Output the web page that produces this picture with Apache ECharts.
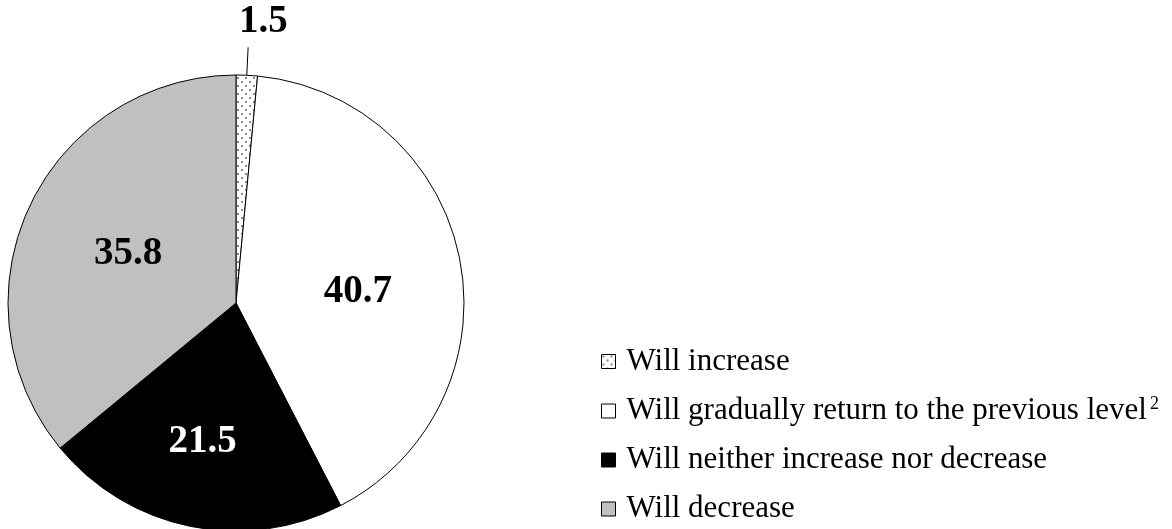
<!DOCTYPE html>
<html>
<head>
<meta charset="utf-8">
<script src="https://cdn.jsdelivr.net/npm/echarts@6/dist/echarts.min.js"></script>
<style>
html,body{margin:0;padding:0;background:#fff;}
#chart{width:1172px;height:529px;}
</style>
</head>
<body>
<div id="chart"></div>
<script>
var categories = [
  'Will increase',
  'Will gradually return to the previous level',
  'Will neither increase nor decrease',
  'Will decrease'
];
var values = [1.5, 40.7, 21.5, 35.8];

function dotPattern() {
  var c = document.createElement('canvas');
  c.width = 8; c.height = 8;
  var g = c.getContext('2d');
  g.fillStyle = '#ffffff';
  g.fillRect(0, 0, 8, 8);
  g.fillStyle = '#8a8a8a';
  g.fillRect(1, 1, 2, 2);
  g.fillRect(5, 5, 2, 2);
  return c;
}

var fills = [
  { image: dotPattern(), repeat: 'repeat' },
  '#ffffff',
  '#000000',
  '#c0c0c0'
];
var labelColors = ['#000000', '#000000', '#ffffff', '#000000'];
var labelOffsets = [[-14, -25], [7, 11], [-10, 24], [-2, 1]];

var font = '"Liberation Serif", "Times New Roman", serif';

var data = categories.map(function (name, i) {
  var item = {
    name: name,
    value: values[i],
    itemStyle: { color: fills[i] },
    label: {
      color: labelColors[i],
      offset: labelOffsets[i]
    }
  };
  if (i === 0) {
    item.label.position = 'outside';
    item.labelLine = { show: true, length: 28, length2: 0, lineStyle: { color: '#000', width: 1 } };
  }
  return item;
});

var chart = echarts.init(document.getElementById('chart'), null, { renderer: 'canvas' });
chart.setOption({
  backgroundColor: '#ffffff',
  animation: false,
  legend: {
    orient: 'vertical',
    left: 601,
    top: 346,
    padding: 0,
    itemWidth: 14,
    itemHeight: 14,
    itemGap: 18,
    icon: 'rect',
    itemStyle: { borderColor: '#000', borderWidth: 1 },
    textStyle: {
      fontFamily: font,
      fontSize: 31,
      color: '#000',
      rich: {
        n: { fontFamily: font, fontSize: 31, color: '#000', padding: [0, 0, 0, 6] },
        sup: { fontFamily: font, fontSize: 18, color: '#000', verticalAlign: 'top', padding: [0, 0, 14, 3] }
      }
    },
    formatter: function (name) {
      if (name === categories[1]) return '{n|' + name + '}{sup|2}';
      return '{n|' + name + '}';
    },
    data: categories
  },
  series: [{
    type: 'pie',
    center: [236, 303],
    radius: [0, 228],
    startAngle: 90,
    clockwise: true,
    avoidLabelOverlap: false,
    itemStyle: { borderColor: '#000', borderWidth: 1 },
    label: {
      show: true,
      position: 'inside',
      fontFamily: font,
      fontSize: 39,
      fontWeight: 'bold',
      formatter: function (p) { return p.value.toFixed(1); }
    },
    labelLine: { show: false },
    emphasis: { disabled: true },
    data: data
  }]
});
</script>
</body>
</html>
